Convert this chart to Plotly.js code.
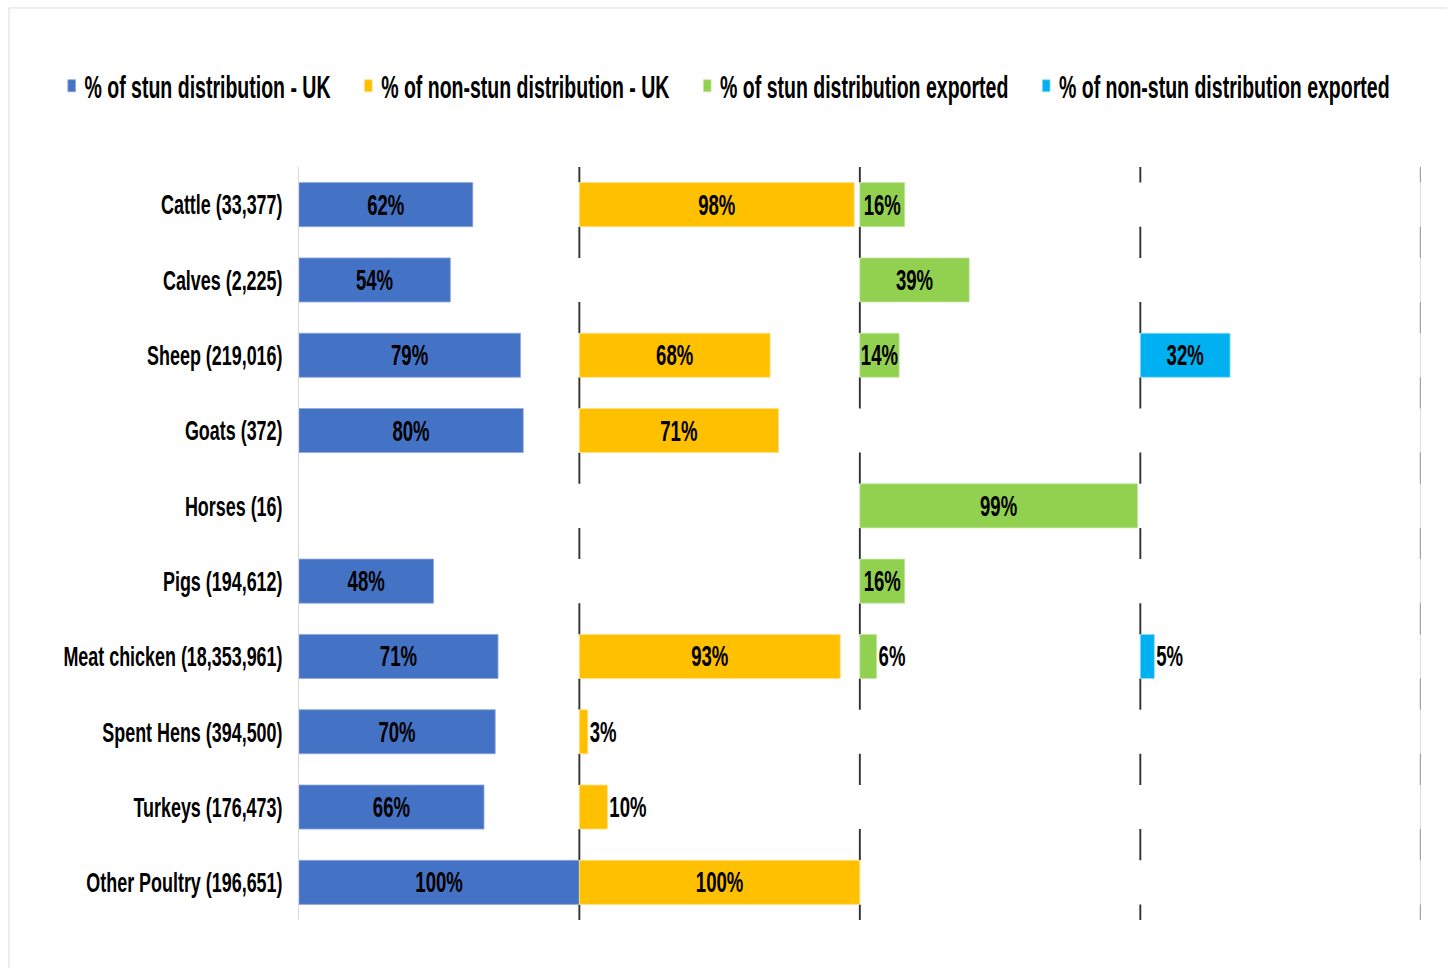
<!DOCTYPE html>
<html>
<head>
<meta charset="utf-8">
<script src="https://cdn.plot.ly/plotly-3.0.1.min.js"></script>
<style>
  html, body { margin: 0; padding: 0; background: #ffffff; overflow: hidden; }
  #wrap { width: 1447px; height: 968px; overflow: hidden; position: relative; }
  /* the chart is laid out wide and squeezed horizontally to get the narrow, tall lettering */
  #chart { width: 2261px; height: 968px; transform: scaleX(0.64); transform-origin: 0 0; position: absolute; left: 0; top: 0; }
</style>
</head>
<body>
<div id="wrap"><div id="chart"></div></div>
<script>
// ---- Data ----
const categories = [
  'Cattle (33,377)', 'Calves (2,225)', 'Sheep (219,016)', 'Goats (372)', 'Horses (16)',
  'Pigs (194,612)', 'Meat chicken (18,353,961)', 'Spent Hens (394,500)', 'Turkeys (176,473)',
  'Other Poultry (196,651)'
];
const stunUK      = [62, 54, 79, 80, null, 48, 71, 70, 66, 100];
const nonStunUK   = [98, null, 68, 71, null, null, 93, 3, 10, 100];
const stunExp     = [16, 39, 14, null, 99, 16, 6, null, null, null];
const nonStunExp  = [null, null, 32, null, null, null, 5, null, null, null];
const seriesNames = [
  '% of stun distribution - UK',
  '% of non-stun distribution - UK',
  '% of stun distribution exported',
  '% of non-stun distribution exported'
];
const seriesValues = [stunUK, nonStunUK, stunExp, nonStunExp];
const panelMax = 100;   // each panel spans 0-100 %

// ---- Styles ----
const colors     = ['#4472C4', '#FFC000', '#92D050', '#00B0F0'];
const edgeColors = ['#8EA9DB', '#FFE08A', '#C5E8A5', '#8FDDF7'];
const FONT = "'Liberation Sans', Arial, sans-serif";
const BAR_W = 0.585;
const PAD = '\u00A0\u00A0\u00A0\u00A0';

const nPanels = seriesValues.length;
const total = panelMax * nPanels;

const traces = [];
// White backing bars (hide the panel dividers behind every row)
traces.push({
  type: 'bar', orientation: 'h',
  y: categories, x: categories.map(() => total), base: categories.map(() => 0),
  width: BAR_W,
  marker: { color: '#ffffff', line: { width: 0 } },
  hoverinfo: 'skip', showlegend: false
});

const labelFont = { family: FONT, size: 29, color: '#000000', weight: 'bold' };
seriesValues.forEach((vals, i) => {
  traces.push({
    type: 'bar', orientation: 'h',
    name: seriesNames[i] + PAD,
    y: categories,
    x: vals,
    base: vals.map(() => i * panelMax),
    width: BAR_W,
    marker: { color: colors[i], line: { color: edgeColors[i], width: 1 } },
    text: vals.map(v => v == null ? '' : v + '%'),
    textposition: vals.map(v => (v != null && v < 12) ? 'outside' : 'inside'),
    insidetextanchor: 'middle',
    textangle: 0,
    constraintext: 'none',
    cliponaxis: false,
    textfont: labelFont,
    insidetextfont: labelFont,
    outsidetextfont: labelFont,
    hovertemplate: '%{y}: %{x}%<extra>' + seriesNames[i] + '</extra>'
  });
});

// Panel divider lines (drawn beneath the bars)
const shapes = [];
for (let p = 1; p <= nPanels; p++) {
  shapes.push({
    type: 'line', layer: 'below', xref: 'x', yref: 'paper',
    x0: p * panelMax, x1: p * panelMax, y0: 0, y1: 1,
    line: { color: p === nPanels ? '#8a8a8a' : '#333333', width: 3 }
  });
}
// Outer chart frame (left and top edges)
shapes.push({ type: 'line', xref: 'paper', yref: 'paper', x0: -0.2584, x1: -0.2584, y0: -0.07, y1: 1.2112,
  line: { color: '#d9d9d9', width: 1.5 } });
shapes.push({ type: 'line', xref: 'paper', yref: 'paper', x0: -0.2584, x1: 1.03, y0: 1.2112, y1: 1.2112,
  line: { color: '#d9d9d9', width: 1 } });

const layout = {
  width: 2261, height: 968,
  margin: { l: 467, r: 41, t: 167, b: 48, pad: 0 },
  paper_bgcolor: '#ffffff', plot_bgcolor: '#ffffff',
  barmode: 'overlay',
  font: { family: FONT, size: 28, color: '#000000', weight: 'bold' },
  showlegend: true,
  legend: {
    orientation: 'h', x: -0.2139, xanchor: 'left', y: 1.1077, yanchor: 'middle',
    font: { family: FONT, size: 30.5, color: '#000000', weight: 'bold' },
    bgcolor: 'rgba(0,0,0,0)', traceorder: 'normal'
  },
  xaxis: {
    range: [0, total], showgrid: false, zeroline: false, showline: false,
    showticklabels: false, ticks: '', fixedrange: true
  },
  yaxis: {
    type: 'category', categoryorder: 'array', categoryarray: categories,
    range: [categories.length - 0.5, -0.5],
    showgrid: false, zeroline: false,
    showline: true, linecolor: '#d9d9d9', linewidth: 2,
    ticks: '', ticklabelstandoff: 18,
    tickfont: { family: FONT, size: 28, color: '#000000', weight: 'bold' },
    fixedrange: true
  },
  shapes: shapes
};

Plotly.newPlot('chart', traces, layout, { displayModeBar: false });
</script>
</body>
</html>
